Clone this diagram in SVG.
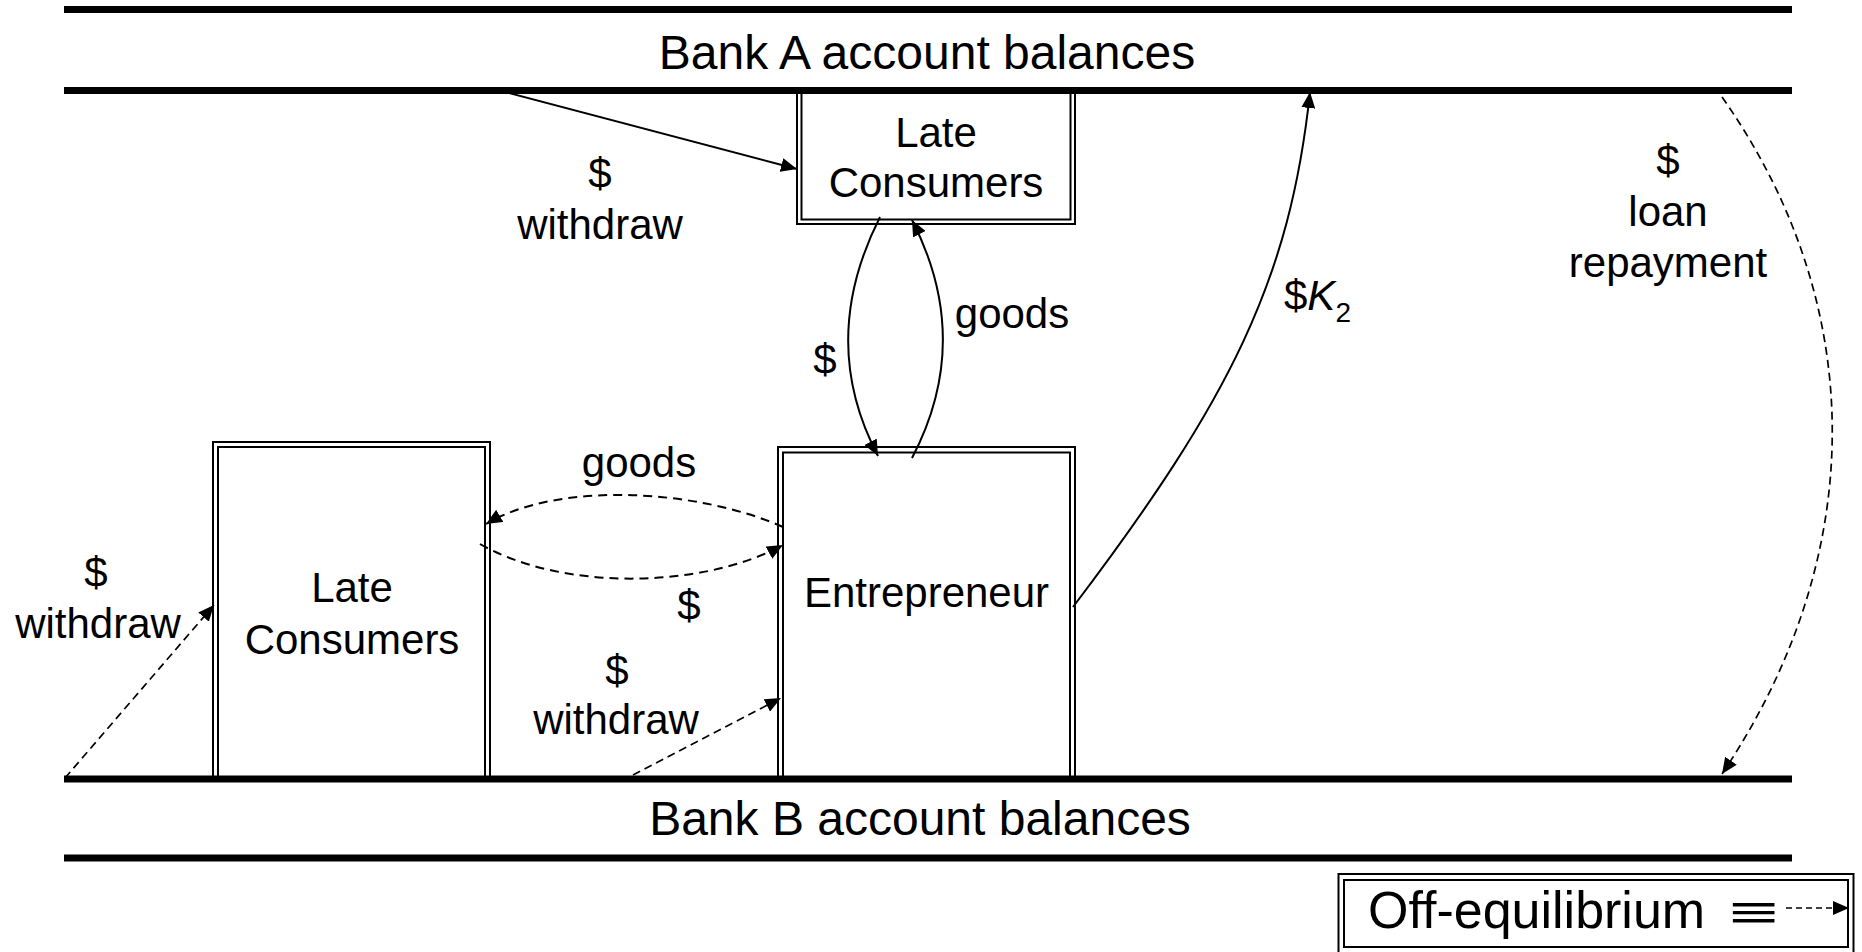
<svg xmlns="http://www.w3.org/2000/svg" width="1862" height="952" viewBox="0 0 1862 952">
<defs>
<marker id="ah" markerUnits="userSpaceOnUse" markerWidth="18" markerHeight="14" refX="16" refY="7" orient="auto">
<path d="M0,0 L16,7 L0,14 Z" fill="#000"/>
</marker>
</defs>
<style>
text{font-family:"Liberation Sans",Arial,sans-serif;fill:#000;}
.lbl{font-size:42px;text-anchor:middle;}
.bank{font-size:48px;text-anchor:middle;}
.bar{stroke:#000;stroke-width:7;}
.box{fill:#fff;stroke:#000;stroke-width:2;}
.inner{fill:none;stroke:#000;stroke-width:2;}
.solid{fill:none;stroke:#000;stroke-width:2;marker-end:url(#ah);}
.dash{fill:none;stroke:#000;stroke-width:2;stroke-dasharray:9 6;marker-end:url(#ah);}
.dash2{fill:none;stroke:#000;stroke-width:1.7;stroke-dasharray:8 5;marker-end:url(#ah);}
</style>
<rect width="1862" height="952" fill="#fff"/>

<g id="node-late-consumers-top">
<rect class="box" x="797" y="89" width="278" height="135"/>
<rect class="inner" x="801.5" y="89" width="269" height="130.5"/>
<text class="lbl" x="936" y="147">Late</text>
<text class="lbl" x="936" y="197">Consumers</text>
</g>

<g id="node-late-consumers-bottom">
<rect class="box" x="213" y="442" width="277" height="339"/>
<rect class="inner" x="218" y="447" width="267" height="334"/>
<text class="lbl" x="352" y="602">Late</text>
<text class="lbl" x="352" y="654">Consumers</text>
</g>

<g id="node-entrepreneur">
<rect class="box" x="778" y="447" width="297" height="334"/>
<rect class="inner" x="783" y="452.5" width="287" height="328.5"/>
<text class="lbl" x="926.5" y="607">Entrepreneur</text>
</g>

<g id="node-bank-a">
<line class="bar" x1="64" y1="9.5" x2="1792" y2="9.5"/>
<line class="bar" x1="64" y1="90.5" x2="1792" y2="90.5"/>
<text class="bank" x="927" y="69">Bank A account balances</text>
</g>

<g id="node-bank-b">
<line class="bar" x1="64" y1="779" x2="1792" y2="779"/>
<line class="bar" x1="64" y1="858" x2="1792" y2="858"/>
<text class="bank" x="920" y="835">Bank B account balances</text>
</g>

<g id="connectors">
<path class="solid" d="M505,92 L797,169"/>
<path class="solid" d="M880,217 C838,300 838,380 878,456"/>
<path class="solid" d="M912,458 C953,380 953,300 912,220"/>
<path class="solid" d="M1073,607 C1230,400 1290,280 1310,92"/>
<path class="dash2" d="M1722,97 C1872,310 1866,560 1722,774"/>
<path class="dash" d="M783,527 C700,490 560,480 486,524"/>
<path class="dash" d="M480,544 C560,590 700,590 783,545"/>
<path class="dash2" d="M633,775 L781,698"/>
<path class="dash2" d="M65,778 L214,605"/>
</g>

<g id="labels">
<text class="lbl" x="600" y="188">$</text>
<text class="lbl" x="600" y="239">withdraw</text>
<text class="lbl" x="825" y="374">$</text>
<text class="lbl" x="1012" y="328">goods</text>
<text class="lbl" x="639" y="477">goods</text>
<text class="lbl" x="689" y="620">$</text>
<text class="lbl" x="617" y="685">$</text>
<text class="lbl" x="616" y="734">withdraw</text>
<text class="lbl" x="96" y="587">$</text>
<text class="lbl" x="98" y="638">withdraw</text>
<text class="lbl" x="1668" y="175">$</text>
<text class="lbl" x="1668" y="226">loan</text>
<text class="lbl" x="1668" y="277">repayment</text>
<text x="1284" y="310" font-size="42">$<tspan font-style="italic">K</tspan><tspan font-size="28" dy="12">2</tspan></text>
</g>

<g id="node-legend">
<rect class="box" x="1338.5" y="874" width="515" height="80" stroke-width="2.5"/>
<rect class="inner" x="1344" y="880" width="504" height="67"/>
<text x="1368" y="928" font-size="52">Off-equilibrium</text>
<text x="1729" y="928" font-size="46" textLength="50" lengthAdjust="spacingAndGlyphs">≡</text>
<path d="M1786,908 L1849,908" fill="none" stroke="#000" stroke-width="1.7" stroke-dasharray="6 4" marker-end="url(#ah)"/>
</g>
</svg>
